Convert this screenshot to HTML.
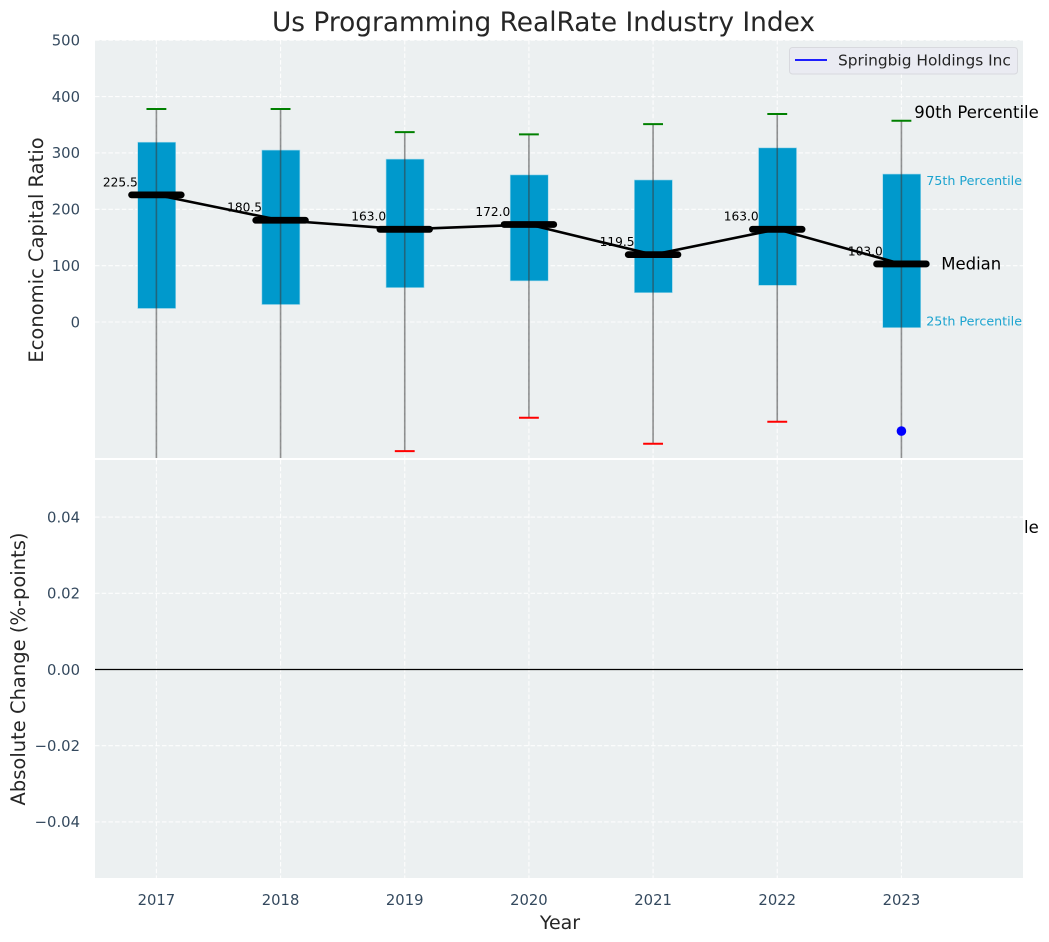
<!DOCTYPE html>
<html>
<head>
<meta charset="utf-8">
<title>Us Programming RealRate Industry Index</title>
<style>
html,body{margin:0;padding:0;background:#fff;width:1049px;height:942px;overflow:hidden}
svg{display:block}
text{font-family:"DejaVu Sans","Liberation Sans",sans-serif}
</style>
</head>
<body>
<svg id="chart" xmlns="http://www.w3.org/2000/svg" width="1049" height="942" viewBox="0 0 1049 942">
  <defs>
    <clipPath id="topClip"><rect x="95" y="40" width="928" height="418"/></clipPath>
  </defs>
</svg>
<script>
const years = [2017, 2018, 2019, 2020, 2021, 2022, 2023];
const p90 = [378, 378, 337, 333, 351, 369, 357];
const q3 = [319, 305, 289, 261, 252, 309, 262.5];
const medians = [225.5, 180.5, 164.5, 173, 119.5, 164.5, 103.0];
const medianLabels = ['225.5', '180.5', '163.0', '172.0', '119.5', '163.0', '103.0'];
const q1 = [24, 31, 61, 73, 52, 65, -10];
const p10 = [-300, -300, -229, -170, -216, -177, -300];
const companyValues = [-193.5];
const companyYears = [2023];
const topTicks = [0, 100, 200, 300, 400, 500];
const bottomTicks = [-0.04, -0.02, 0, 0.02, 0.04];

const NS = 'http://www.w3.org/2000/svg';
const svg = document.getElementById('chart');
function mk(tag, props, parent) {
  const el = document.createElementNS(NS, tag);
  for (const k in props) el.setAttribute(k, props[k]);
  (parent || svg).appendChild(el);
  return el;
}
function label(str, props, parent) {
  const el = mk('text', props, parent);
  el.textContent = str;
  return el;
}
const X = v => 156.4 + (v - 2017) * 124.17;
const YT = v => 322 - v * 0.5636;
const YB = v => 669.5 - v * 3810;
const gridStyle = {stroke: '#ffffff', 'stroke-width': 1.1, 'stroke-dasharray': '4.5 2.2', opacity: 0.9};
const tickColor = '#34495e';
const boxW = 0.306, medW = 0.4, capW = 0.16;
const tickSize = 14.8;

/* top axes */
const topBg = mk('rect', {x: 95, y: 40, width: 928, height: 418, fill: '#ecf0f1'});



const plot = mk('g', {'clip-path': 'url(#topClip)'});



topTicks.forEach(t => {
  const g = mk('line', Object.assign({x1: 95, x2: 1023, y1: YT(t), y2: YT(t)}, gridStyle), plot);
  
  
  const l = label(String(t), {x: 80, y: YT(t) + 5.3, 'text-anchor': 'end', 'font-size': tickSize, fill: tickColor});
  
  
});
years.forEach(y => {
  const g = mk('line', Object.assign({x1: X(y), x2: X(y), y1: 40, y2: 458}, gridStyle), plot);
  
  
});

years.forEach((y, i) => {
  const b = mk('rect', {x: X(y - boxW / 2) + 0.3, width: X(y + boxW / 2) - X(y - boxW / 2), y: YT(q3[i]), height: YT(q1[i]) - YT(q3[i]), fill: '#0099cc', stroke: '#9fd8ea', 'stroke-width': 0.6}, plot);
  
  
  const w = mk('line', {x1: X(y), x2: X(y), y1: YT(p90[i]), y2: YT(p10[i]), stroke: '#3a3a3a', 'stroke-opacity': 0.55, 'stroke-width': 1.6}, plot);
  
  
  const c1 = mk('line', {x1: X(y - capW / 2), x2: X(y + capW / 2), y1: YT(p90[i]), y2: YT(p90[i]), stroke: '#008000', 'stroke-width': 2}, plot);
  
  
  const c2 = mk('line', {x1: X(y - capW / 2), x2: X(y + capW / 2), y1: YT(p10[i]), y2: YT(p10[i]), stroke: '#ff0000', 'stroke-width': 2}, plot);
  
  
});

years.forEach((y, i) => {
  const t = label(medianLabels[i], {x: X(y) - 18.6, y: YT(medians[i]) - 8.6, 'text-anchor': 'end', 'font-size': 12.2, fill: '#000'});
  
  
});

const trend = mk('polyline', {points: years.map((y, i) => X(y) + ',' + YT(medians[i])).join(' '), fill: 'none', stroke: '#000', 'stroke-width': 2.6}, plot);



years.forEach((y, i) => {
  const m = mk('line', {x1: X(y - medW / 2), x2: X(y + medW / 2), y1: YT(medians[i]), y2: YT(medians[i]), stroke: '#000', 'stroke-width': 6.8, 'stroke-linecap': 'round'}, plot);
  
  
});

companyYears.forEach((y, i) => {
  const d = mk('circle', {cx: X(y), cy: YT(companyValues[i]), r: 4.8, fill: '#0000ff'}, plot);
  
  
});

/* percentile annotations, positioned from the last year's values */
const last = years.length - 1;
const a90 = label('90th Percentile', {x: X(years[last]) + 12.8, y: YT(p90[last]) - 3, 'font-size': 16.5, fill: '#000'});


const a75 = label('75th Percentile', {x: X(years[last]) + 24.8, y: YT(q3[last]) + 11, 'font-size': 12.7, fill: '#1ba3cf'});


const aMed = label('Median', {x: X(years[last]) + 39.8, y: YT(medians[last]) + 5.5, 'font-size': 16.5, fill: '#000'});


const a25 = label('25th Percentile', {x: X(years[last]) + 24.8, y: YT(q1[last]) - 2, 'font-size': 12.7, fill: '#1ba3cf'});


const a10 = label('10th Percentile', {x: X(years[last]) + 12.8, y: 533, 'font-size': 16.5, fill: '#000'});



/* legend */
const legend = mk('g', {});


const legendBox = mk('rect', {x: 789.5, y: 47.5, width: 228, height: 26.5, rx: 3, fill: '#eaeaf2', 'fill-opacity': 0.9, stroke: '#d8d9de', 'stroke-width': 1}, legend);


const legendLine = mk('line', {x1: 795, x2: 827, y1: 60, y2: 60, stroke: '#0000ff', 'stroke-width': 1.8}, legend);


const legendText = label('Springbig Holdings Inc', {x: 838, y: 65.5, 'font-size': 15.4, fill: '#262626'}, legend);



/* bottom axes */
const botBg = mk('rect', {x: 95, y: 460, width: 928, height: 418, fill: '#ecf0f1'});



bottomTicks.forEach(t => {
  if (t !== 0) {
    const g = mk('line', Object.assign({x1: 95, x2: 1023, y1: YB(t), y2: YB(t)}, gridStyle));
    
    
  }
  const str = (t < 0 ? '\u2212' : '') + Math.abs(t).toFixed(2);
  const l = label(str, {x: 80, y: YB(t) + 5.3, 'text-anchor': 'end', 'font-size': tickSize, fill: tickColor});
  
  
});
years.forEach(y => {
  const g = mk('line', Object.assign({x1: X(y), x2: X(y), y1: 460, y2: 878}, gridStyle));
  
  
  const l = label(String(y), {x: X(y), y: 905, 'text-anchor': 'middle', 'font-size': tickSize, fill: tickColor});
  
  
});
const zero = mk('line', {x1: 95, x2: 1023, y1: YB(0), y2: YB(0), stroke: '#000', 'stroke-width': 1.2});



/* titles */
const title = label('Us Programming RealRate Industry Index', {x: 543.5, y: 31, 'text-anchor': 'middle', 'font-size': 26.4, fill: '#262626'});


const xTitle = label('Year', {x: 560, y: 929, 'text-anchor': 'middle', 'font-size': 19, fill: '#262626'});


const yTop = label('Economic Capital Ratio', {x: 0, y: 0, transform: 'translate(43,250) rotate(-90)', 'text-anchor': 'middle', 'font-size': 19.5, fill: '#262626'});


const yBot = label('Absolute Change (%-points)', {x: 0, y: 0, transform: 'translate(25,669) rotate(-90)', 'text-anchor': 'middle', 'font-size': 19.5, fill: '#262626'});


</script>
</body>
</html>
